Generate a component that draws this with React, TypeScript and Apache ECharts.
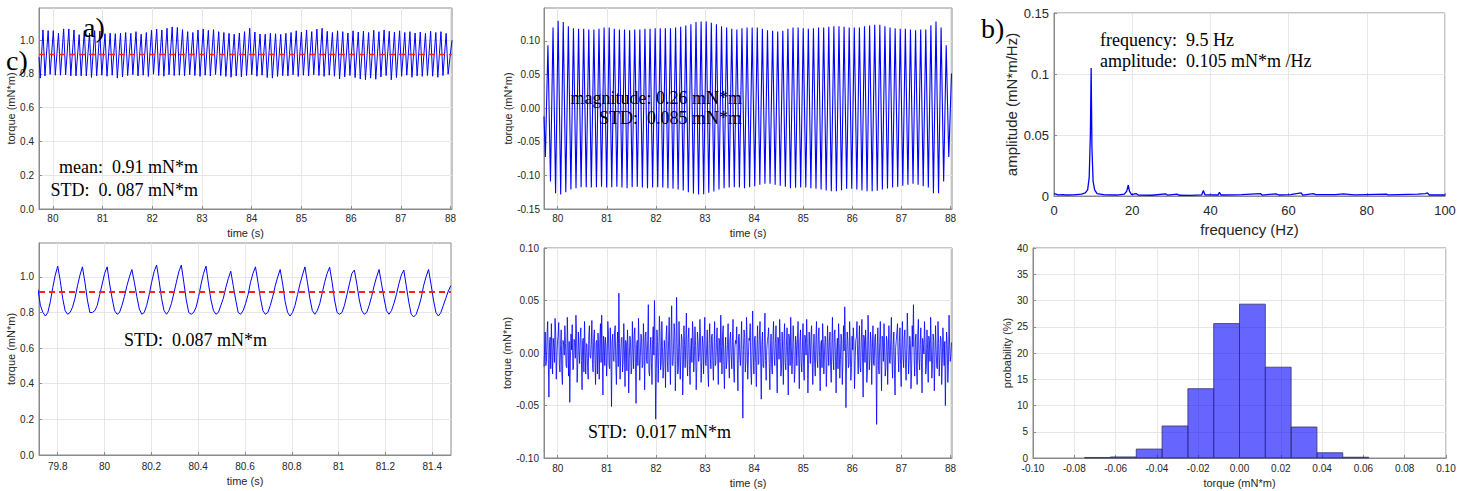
import React, { useEffect, useRef } from 'react';
import * as echarts from 'echarts';

// ---------- tick labels ----------
const TIME_TICKS = [80, 81, 82, 83, 84, 85, 86, 87, 88];
const ZOOM_TIME_TICKS = [79.8, 80, 80.2, 80.4, 80.6, 80.8, 81, 81.2, 81.4];
const TORQUE_TICKS = [0, 0.2, 0.4, 0.6, 0.8, 1.0];
const AC_TICKS = [-0.15, -0.1, -0.05, 0, 0.05, 0.1];

const MEAN_TORQUE = 0.915;

// ---------- a) raw torque, 79.72 - 88.03 s (peaks / troughs of each cycle) ----------
const TL_SAMPLE_T0 = 79.8; // time of first peak
const TL_PERIOD = 0.104;
const TL_FALL = 0.04; // trough lag after peak
const TL_START = [79.72, 0.9];
const TL_LEAD_TROUGH = [79.745, 0.775];
const TL_END = [88.03, 1.0];
const TL_PEAKS = [
  1.06, 1.056, 1.056, 1.041, 1.066, 1.066, 1.06, 1.032, 1.056, 1.041,
  1.056, 1.054, 1.038, 1.041, 1.038, 1.041, 1.045, 1.04, 1.05, 1.035,
  1.045, 1.058, 1.065, 1.06, 1.07, 1.078, 1.075, 1.062, 1.05, 1.045,
  1.06, 1.065, 1.058, 1.062, 1.05, 1.045, 1.04, 1.035, 1.042, 1.05,
  1.07, 1.048, 1.036, 1.035, 1.04, 1.038, 1.034, 1.04, 1.045, 1.055,
  1.048, 1.06, 1.05, 1.065, 1.07, 1.052, 1.045, 1.055, 1.05, 1.042,
  1.055, 1.048, 1.052, 1.045, 1.058, 1.05, 1.06, 1.052, 1.048, 1.055,
  1.045, 1.05, 1.042, 1.048, 1.04, 1.052, 1.045, 1.05, 1.04,
];
const TL_TROUGHS = [
  0.788, 0.797, 0.792, 0.792, 0.794, 0.788, 0.788, 0.788, 0.788, 0.779,
  0.788, 0.792, 0.786, 0.792, 0.775, 0.782, 0.79, 0.795, 0.788, 0.792,
  0.785, 0.798, 0.79, 0.786, 0.795, 0.79, 0.792, 0.788, 0.795, 0.79,
  0.785, 0.792, 0.788, 0.796, 0.79, 0.785, 0.78, 0.788, 0.782, 0.79,
  0.795, 0.786, 0.792, 0.778, 0.775, 0.785, 0.79, 0.788, 0.795, 0.785,
  0.792, 0.788, 0.795, 0.79, 0.785, 0.792, 0.786, 0.77, 0.782, 0.79,
  0.778, 0.77, 0.765, 0.775, 0.768, 0.782, 0.79, 0.765, 0.778, 0.786,
  0.792, 0.78, 0.788, 0.785, 0.79, 0.786, 0.78, 0.79, 0.798,
];

// ---------- filtered 9.5 Hz component ----------
const TM_SAMPLE_T0 = 79.8;
const TM_PERIOD = 0.104;
const TM_START = [79.72, -0.0125];
const TM_END = [88.02, 0.0515];
const TM_PEAKS = [
  0.0935, 0.12, 0.13, 0.128, 0.122, 0.119, 0.118, 0.118, 0.117, 0.117,
  0.118, 0.12, 0.12, 0.118, 0.117, 0.117, 0.116, 0.117, 0.117, 0.118,
  0.118, 0.119, 0.119, 0.119, 0.119, 0.12, 0.121, 0.123, 0.125, 0.128,
  0.129, 0.129, 0.127, 0.125, 0.122, 0.12, 0.118, 0.117, 0.119, 0.12,
  0.12, 0.12, 0.118, 0.116, 0.115, 0.114, 0.115, 0.118, 0.12, 0.12,
  0.119, 0.118, 0.119, 0.12, 0.12, 0.121, 0.122, 0.122, 0.121, 0.12,
  0.12, 0.12, 0.122, 0.123, 0.124, 0.124, 0.122, 0.12, 0.119, 0.118,
  0.118, 0.117, 0.116, 0.117, 0.117, 0.1235, 0.129, 0.12, 0.0935,
];
const TM_TROUGHS = [
  -0.0725, -0.109, -0.1265, -0.1285, -0.125, -0.121, -0.119, -0.1175, -0.1175, -0.118,
  -0.1175, -0.117, -0.118, -0.1175, -0.117, -0.118, -0.119, -0.1175, -0.117, -0.118,
  -0.119, -0.118, -0.1175, -0.118, -0.119, -0.12, -0.121, -0.1225, -0.125, -0.127,
  -0.1285, -0.128, -0.126, -0.124, -0.121, -0.119, -0.118, -0.1175, -0.118, -0.119,
  -0.1175, -0.116, -0.114, -0.1125, -0.1125, -0.114, -0.1155, -0.117, -0.119, -0.1185,
  -0.118, -0.118, -0.119, -0.12, -0.121, -0.1225, -0.1235, -0.1235, -0.122, -0.12,
  -0.12, -0.121, -0.1225, -0.1235, -0.1235, -0.123, -0.121, -0.1195, -0.118, -0.117,
  -0.1155, -0.114, -0.1125, -0.114, -0.116, -0.118, -0.1265, -0.1265, -0.109, -0.0725,
];

// ---------- spectrum ----------
const SPEC_FREQ = [
  0, 0.5, 1, 2.5, 3, 5, 7, 8, 8.6, 9.0, 9.3, 9.5, 9.7, 10.0, 10.4, 11, 13, 16, 18, 18.6,
  19.0, 19.3, 19.8, 21, 21.5, 25, 28.5, 29, 31.5, 32, 35, 37.8, 38.2, 38.6, 42, 42.3, 42.7, 46.5, 48, 52.8,
  53.2, 56.8, 57.5, 60.5, 63.2, 63.6, 66.3, 67, 72, 74, 76, 77, 85, 85.5, 93, 95, 95.5, 96, 100,
];
const SPEC_AMP = [
  0.002, 0.0015, 0.001, 0.0012, 0.0008, 0.001, 0.0015, 0.0025, 0.005, 0.015, 0.05, 0.105, 0.04, 0.012, 0.005, 0.002, 0.001, 0.0008, 0.0015, 0.004,
  0.009, 0.004, 0.0012, 0.002, 0.0008, 0.0006, 0.0018, 0.0008, 0.0015, 0.0006, 0.0005, 0.001, 0.0045, 0.001, 0.0008, 0.003, 0.0008, 0.001, 0.0012, 0.002,
  0.0007, 0.0018, 0.0008, 0.0012, 0.0025, 0.0007, 0.002, 0.0012, 0.0012, 0.0018, 0.0012, 0.0009, 0.0015, 0.001, 0.0015, 0.002, 0.0025, 0.0008, 0.0008,
];

// ---------- c) zoomed raw torque, sampled every BL_DT ----------
const BL_T0 = 79.7155;
const BL_DT = 0.01056;
const BL_VALUES = [
  0.93, 0.84, 0.8, 0.78, 0.8, 0.86, 0.94, 1.01,
  1.06, 0.98, 0.88, 0.81, 0.79, 0.8, 0.83, 0.88, 0.95, 1.01,
  1.056, 0.97, 0.87, 0.8, 0.8, 0.81, 0.84, 0.9, 0.96, 1.02,
  1.056, 0.96, 0.88, 0.81, 0.79, 0.8, 0.84, 0.89, 0.95, 1.0,
  1.041, 0.97, 0.89, 0.82, 0.79, 0.8, 0.84, 0.9, 0.97, 1.03,
  1.066, 0.98, 0.88, 0.81, 0.79, 0.81, 0.85, 0.91, 0.97, 1.03,
  1.066, 0.97, 0.87, 0.8, 0.79, 0.8, 0.83, 0.89, 0.96, 1.02,
  1.06, 0.96, 0.87, 0.81, 0.79, 0.8, 0.84, 0.88, 0.94, 0.99,
  1.032, 0.95, 0.87, 0.8, 0.79, 0.81, 0.85, 0.9, 0.97, 1.02,
  1.056, 0.97, 0.88, 0.81, 0.79, 0.8, 0.84, 0.89, 0.95, 1.0,
  1.041, 0.96, 0.86, 0.8, 0.78, 0.8, 0.84, 0.9, 0.96, 1.01,
  1.056, 0.97, 0.88, 0.81, 0.79, 0.81, 0.85, 0.91, 0.97, 1.02,
  1.054, 0.97, 0.87, 0.8, 0.79, 0.8, 0.84, 0.9, 0.96, 1.02,
  1.038, 0.96, 0.87, 0.81, 0.79, 0.8, 0.84, 0.89, 0.95, 1.0,
  1.041, 0.96, 0.88, 0.81, 0.79, 0.81, 0.85, 0.9, 0.96, 1.01,
  1.038, 0.95, 0.86, 0.79, 0.775, 0.79, 0.83, 0.88, 0.95, 1.0,
  1.041, 0.96, 0.87, 0.8, 0.78, 0.8, 0.84, 0.88, 0.92, 0.95,
];

// ---------- residual torque (x 0.001 mN*m), sampled every BM_DT ----------
const BM_T0 = 79.72;
const BM_DT = 0.025;
const BM_MILLI = [
  -13, 20, -8, 30, -42, 15, 28, -20, 5, 33,
  -25, 12, 29, -18, 22, -30, 8, 26, -12, 34,
  -22, -47, 18, 27, -15, 10, 36, -28, 20, -10,
  24, -35, 14, 30, -20, 8, -25, 26, -5, 31,
  -18, 22, -30, 12, 19, -25, 28, 36, -40, 10,
  15, -22, 30, -12, 24, -51, 18, -8, 26, -30,
  20, 57, -25, 14, -18, 28, -32, 10, 22, -38,
  16, -20, 30, -15, 24, -48, 12, 33, -26, 18,
  -14, 28, -35, 20, -10, 46, -22, 15, -30, 25,
  50, -63, 22, -28, 35, -16, 30, -24, 12, -33,
  26, -18, 34, -30, 45, -12, 28, -36, 53, -20,
  30, -25, 18, -40, 26, -14, 38, -22, 24, -30,
  14, 30, -18, 25, -35, 20, -8, 32, -28, 16,
  -20, 34, -12, 22, -32, 28, -15, 18, -26, 30,
  -10, 24, -30, 12, 36, -20, 26, -34, 15, -8,
  28, -24, 20, -15, 32, -28, 12, 25, -36, 18,
  -12, 30, -62, 22, -18, 34, -25, 14, 28, -30,
  40, -20, 16, -32, 26, -10, 30, -44, 20, -14,
  38, -26, 12, 24, -35, 18, -20, 30, -12, 26,
  -38, 14, 32, -22, 20, -30, 28, -16, 24, -40,
  12, 34, -20, 26, -28, 16, -12, 30, -34, 22,
  -18, 28, -26, 14, 32, -38, 20, -10, 26, -30,
  18, -22, 30, -14, 24, -36, 12, 28, -20, 16,
  -32, 26, -12, 20, -28, 34, -16, 22, -38, 14,
  28, -24, 18, -30, 26, 44, -52, 20, -14, 30,
  -26, 16, 24, -34, 12, 30, -20, 26, -18, 32,
  -42, 14, 22, -28, 36, -16, 20, -30, 26, -12,
  18, -68, 24, -20, 30, -36, 14, 28, -22, 16,
  -30, 26, -10, 34, -24, 20, -40, 12, 28, -18,
  24, -32, 30, -14, 22, -26, 38, -20, 16, -34,
  26, 46, -22, 18, -30, 32, -16, 24, -38, 14,
  30, -20, 22, -28, 12, 34, -24, 18, -36, 26,
  -14, 30, -22, 16, -30, 24, -12, -50, 20, -28,
  36, -8, 10,
];
// samples half-way between the ones above (x 0.001 mN*m)
const BM_MILLI_MID = [
  5, -12, 18, -6, 10, -15, 3, 14, -9, 20,
  -4, 16, -11, 7, -18, 12, -2, 9, -14, 6,
  11, -8, 3, -16, 13, -5, 19, -10, 2, 15,
  -7, 12, -18, 4, 9, -13, 17, -3, 8, -11,
  14, -6, 10, -20, 5, 13, -9, 2, 16, -12,
  7, -4, 18, -15, 3, 11, -7, 20, -10, 6,
  -13, 9, -2, 15, -8, 4, 12, -17, 6, -5,
  10, -14, 3, 17, -9, 8, -12, 5, -3, 14,
  -11, 7, 16, -6, 12, -18, 4, -9, 13, -2,
  8, -15, 11, -4, 19, -10, 6, -13, 2, 16,
  -8, 12, -5, 15, -11, 3, 18, -7, 9, -14,
  5, -2, 13, -16, 8, 10, -6, 14, -12, 4,
  -9, 17, -3, 7, -13, 11, -1, 15, -8, 6,
  12, -10, 4, -17, 9, -5, 16, -7, 3, -12,
  10, -4, 14, -9, 6, 18, -11, 2, -15, 8,
  -6, 13, -2, 11, -14, 5, 9, -10, 16, -3,
  7, -12, 3, 15, -8, 10, -5, 12, -16, 4,
  -2, 14, -9, 6, -11, 17, -4, 8, -13, 10,
  -7, 3, 16, -10, 5, -14, 12, -3, 9, -8,
  15, -6, 11, -15, 2, 13, -9, 7, -4, 18,
  -12, 6, -3, 10, -16, 8, 14, -5, 11, -9,
  4, -13, 17, -2, 9, -11, 5, 15, -7, 3,
  -10, 12, -6, 16, -4, 8, -14, 10, -1, 13,
  -9, 5, 11, -12, 7, -3, 18, -8, 4, -15,
  9, -6, 13, -10, 2, 16, -5, 12, -11, 6,
  -14, 3, 10, -7, 15, -2, 8, -13, 11, -4,
  17, -9, 5, -16, 12, -6, 9, 3, -11, 14,
  -5, 7, -12, 10, -3, 16, -8, 4, -14, 11,
  2, -9, 13, -6, 8, -15, 5, 12, -2, 10,
  -11, 7, -4, 15, -10, 3, 13, -7, 9, -16,
  6, -3, 11, -12, 18, -5, 8, -9, 14, -1,
  10, -13, 4, 16, -8, 7, -11, 12, -6, 3,
  -15, 9, -2, 13, -10, 5, 11, -4, 8, -12,
  6, -3, 8,
];

// ---------- histogram ----------
const HIST_EDGES = [-0.075, -0.0625, -0.05, -0.0375, -0.025, -0.0125, 0, 0.0125, 0.025, 0.0375, 0.05, 0.0625];
const HIST_PROB = [0.1, 0.2, 1.7, 6.1, 13.2, 25.6, 29.3, 17.3, 5.9, 1.0, 0.15];

// ---------- build series data ----------
const tlData: number[][] = [TL_START, TL_LEAD_TROUGH];
TL_PEAKS.forEach((p, k) => {
  const tp = TL_SAMPLE_T0 + k * TL_PERIOD;
  tlData.push([tp, p]);
  tlData.push([tp + TL_FALL, TL_TROUGHS[k]]);
});
tlData.push(TL_END);

const tmData: number[][] = [TM_START];
TM_TROUGHS.forEach((tr, j) => {
  tmData.push([TM_SAMPLE_T0 + (j - 0.5) * TM_PERIOD, tr]);
  if (j < TM_PEAKS.length) tmData.push([TM_SAMPLE_T0 + j * TM_PERIOD, TM_PEAKS[j]]);
});
tmData.push(TM_END);

const specData = SPEC_FREQ.map((f, i) => [f, SPEC_AMP[i]]);
const blData = BL_VALUES.map((v, i) => [BL_T0 + i * BL_DT, v]);
const bmData: number[][] = [];
BM_MILLI.forEach((v, i) => {
  bmData.push([BM_T0 + i * BM_DT, v / 1000]);
  if (i < BM_MILLI_MID.length && i < BM_MILLI.length - 1) {
    bmData.push([BM_T0 + (i + 0.5) * BM_DT, BM_MILLI_MID[i] / 1000]);
  }
});
const histData = HIST_PROB.map((p, i) => [HIST_EDGES[i], HIST_EDGES[i + 1], p]);

// ---------- styling helpers ----------
const SANS = '"Liberation Sans", Arial, Helvetica, sans-serif';
const SERIF = '"Liberation Serif", "Times New Roman", serif';
const BOX = '#8a8a8a';
const GRIDC = '#e6e6e6';

function axis(o: any) {
  const base: any = {
    type: 'value',
    gridIndex: o.gridIndex,
    min: o.min,
    max: o.max,
    name: o.name,
    nameLocation: 'middle',
    nameGap: o.nameGap,
    nameTextStyle: { color: '#262626', fontSize: o.nameSize, fontFamily: SANS },
    axisLine: { show: true, onZero: false, lineStyle: { color: BOX, width: 1 } },
    axisTick: { show: true, inside: true, length: 3, lineStyle: { color: BOX } },
    axisLabel: {
      color: '#262626',
      fontSize: o.fontSize,
      fontFamily: SANS,
      margin: o.margin,
      formatter: o.fmt,
      showMinLabel: true,
      showMaxLabel: true,
      hideOverlap: false,
    },
    splitLine: { show: true, lineStyle: { color: GRIDC, width: 1 } },
  };
  if (o.ticks) {
    base.axisLabel.customValues = o.ticks;
    base.axisTick.customValues = o.ticks;
  }
  if (o.interval !== undefined) base.interval = o.interval;
  return base;
}

const fmtTrim = (d: number) => (v: number) => String(+Number(v).toFixed(d));
const fmtFixed = (d: number) => (v: number) => (Math.abs(v) < 1e-9 ? (0).toFixed(d) : Number(v).toFixed(d));

function txt(text: string, x: number, y: number, size: number, align: string) {
  return {
    type: 'text',
    x,
    y,
    z: 100,
    style: {
      text,
      font: `${size}px ${SERIF}`,
      fill: '#000',
      align,
      verticalAlign: 'middle',
      textAlign: align,
      textVerticalAlign: 'middle',
    },
  };
}

const lineSeries = (xi: number, data: number[][], width = 1) => ({
  type: 'line',
  xAxisIndex: xi,
  yAxisIndex: xi,
  data,
  symbol: 'none',
  showSymbol: false,
  lineStyle: { color: '#0000ff', width },
  silent: true,
});

const meanSeries = (xi: number, x0: number, x1: number, width: number) => ({
  type: 'line',
  xAxisIndex: xi,
  yAxisIndex: xi,
  data: [
    [x0, MEAN_TORQUE],
    [x1, MEAN_TORQUE],
  ],
  symbol: 'none',
  z: 5,
  lineStyle: { color: '#ff2020', width, type: [6, 4] },
  silent: true,
});

export default function App() {
  const ref = useRef<HTMLDivElement>(null);
  useEffect(() => {
    if (!ref.current) return;
    const chart = echarts.init(ref.current, undefined, { renderer: 'svg' });
    const gridBase = { show: true, borderColor: BOX, borderWidth: 1, backgroundColor: '#fff', containLabel: false };
    chart.setOption({
      animation: false,
      backgroundColor: '#fff',
      grid: [
        { ...gridBase, left: 39, top: 8, width: 413, height: 201 },
        { ...gridBase, left: 544, top: 8, width: 408, height: 201 },
        { ...gridBase, left: 1054, top: 13, width: 391, height: 183 },
        { ...gridBase, left: 39, top: 243, width: 412, height: 212 },
        { ...gridBase, left: 544, top: 248, width: 408, height: 210 },
        { ...gridBase, left: 1033, top: 248, width: 413, height: 210 },
      ],
      xAxis: [
        axis({ gridIndex: 0, min: 79.72, max: 88.03, ticks: TIME_TICKS, name: 'time (s)', nameGap: 18, nameSize: 11, fontSize: 10, margin: 4, fmt: fmtTrim(1) }),
        axis({ gridIndex: 1, min: 79.72, max: 88.03, ticks: TIME_TICKS, name: 'time (s)', nameGap: 18, nameSize: 11, fontSize: 10, margin: 4, fmt: fmtTrim(1) }),
        axis({ gridIndex: 2, min: 0, max: 100, interval: 20, name: 'frequency (Hz)', nameGap: 26, nameSize: 15, fontSize: 13, margin: 8, fmt: fmtTrim(0) }),
        axis({ gridIndex: 3, min: 79.72, max: 81.48, ticks: ZOOM_TIME_TICKS, name: 'time (s)', nameGap: 20, nameSize: 11, fontSize: 10, margin: 6, fmt: fmtTrim(1) }),
        axis({ gridIndex: 4, min: 79.72, max: 88.03, ticks: TIME_TICKS, name: 'time (s)', nameGap: 19, nameSize: 11, fontSize: 10, margin: 5, fmt: fmtTrim(1) }),
        axis({ gridIndex: 5, min: -0.1, max: 0.1, interval: 0.02, name: 'torque (mN*m)', nameGap: 19, nameSize: 11, fontSize: 10, margin: 5, fmt: fmtFixed(2) }),
      ],
      yAxis: [
        axis({ gridIndex: 0, min: 0, max: 1.19, ticks: TORQUE_TICKS, name: 'torque (mN*m)', nameGap: 21, nameSize: 11, fontSize: 10, margin: 5, fmt: fmtFixed(1) }),
        axis({ gridIndex: 1, min: -0.15, max: 0.149, ticks: AC_TICKS, name: 'torque (mN*m)', nameGap: 30, nameSize: 11, fontSize: 10, margin: 4, fmt: fmtFixed(2) }),
        axis({ gridIndex: 2, min: 0, max: 0.15, interval: 0.05, name: 'amplitude (mN*m/Hz)', nameGap: 35, nameSize: 15, fontSize: 13, margin: 5, fmt: fmtTrim(2) }),
        axis({ gridIndex: 3, min: 0, max: 1.19, ticks: TORQUE_TICKS, name: 'torque (mN*m)', nameGap: 21, nameSize: 11, fontSize: 10, margin: 5, fmt: fmtFixed(1) }),
        axis({ gridIndex: 4, min: -0.1, max: 0.1, interval: 0.05, name: 'torque (mN*m)', nameGap: 30, nameSize: 11, fontSize: 10, margin: 5, fmt: fmtFixed(2) }),
        axis({ gridIndex: 5, min: 0, max: 40, interval: 5, name: 'probability (%)', nameGap: 18, nameSize: 11, fontSize: 10, margin: 5, fmt: fmtTrim(0) }),
      ],
      series: [
        lineSeries(0, tlData, 1),
        meanSeries(0, 79.72, 88.03, 1.5),
        lineSeries(1, tmData, 1.1),
        lineSeries(2, specData, 1.3),
        lineSeries(3, blData, 1),
        meanSeries(3, 79.72, 81.48, 1.8),
        lineSeries(4, bmData, 0.8),
        {
          type: 'custom',
          xAxisIndex: 5,
          yAxisIndex: 5,
          data: histData,
          encode: { x: [0, 1], y: 2 },
          silent: true,
          renderItem: (params: any, api: any) => {
            const p0 = api.coord([api.value(0), api.value(2)]);
            const p1 = api.coord([api.value(1), 0]);
            return {
              type: 'rect',
              shape: { x: p0[0], y: p0[1], width: p1[0] - p0[0], height: p1[1] - p0[1] },
              style: { fill: 'rgba(0,0,255,0.6)', stroke: '#333366', lineWidth: 0.8 },
            };
          },
        },
      ],
      graphic: [
        txt('a)', 83, 27, 28, 'left'),
        txt('c)', 6, 60, 28, 'left'),
        txt('b)', 981, 28, 28, 'left'),
        txt('mean:  0.91 mN*m', 198, 167, 18, 'right'),
        txt('STD:  0. 087 mN*m', 198, 190, 18, 'right'),
        txt('magnitude: 0.26 mN*m', 742, 98, 18, 'right'),
        txt('STD:  0.085 mN*m', 742, 118, 18, 'right'),
        txt('frequency:  9.5 Hz', 1100, 40, 18, 'left'),
        txt('amplitude:  0.105 mN*m /Hz', 1100, 61, 18, 'left'),
        txt('STD:  0.087 mN*m', 124, 340, 18, 'left'),
        txt('STD:  0.017 mN*m', 588, 432, 18, 'left'),
      ],
    });
    return () => chart.dispose();
  }, []);
  return (
    <div
      ref={ref}
      style={{ position: 'fixed', left: 0, top: 0, width: 1471, height: 491, background: '#fff' }}
    />
  );
}
